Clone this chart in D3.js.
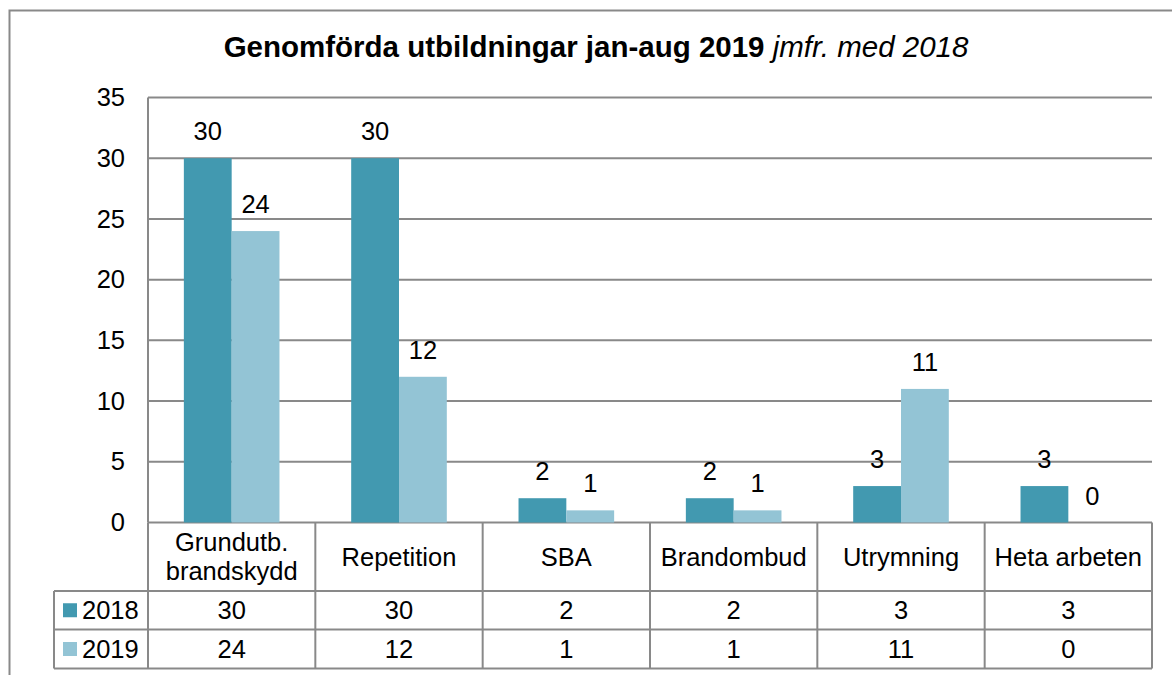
<!DOCTYPE html>
<html>
<head>
<meta charset="utf-8">
<script src="https://cdn.jsdelivr.net/npm/d3@7"></script>
<style>
  body { margin: 0; background: #fff; }
  text { font-family: "Liberation Sans", Arial, sans-serif; fill: #000; }
</style>
</head>
<body>
<script>
(function(){

//chart data
var categories = ["Grundutb.\nbrandskydd", "Repetition", "SBA", "Brandombud", "Utrymning", "Heta arbeten"];
var seriesNames = ["2018", "2019"];
var values2018 = [30, 30, 2, 2, 3, 3];
var values2019 = [24, 12, 1, 1, 11, 0];
var yTicks = [0, 5, 10, 15, 20, 25, 30, 35];

var colors = ["#4299b0", "#93c4d5"];
var gridColor = "#898989";
var fontSize = "25.5px";

var width = 1172, height = 675;

//plot frame
var left = 148, right = 1152, top = 97.5, bottom = 522.5;
var rowCat = 591, row1 = 629.5, row2 = 668.5, legendLeft = 54;

var svg = d3.select("body").append("svg")
    .attr("width", width)
    .attr("height", height);

//outer border (runs off the bottom/right of the picture)
svg.append("rect")
    .attr("x", 9.5).attr("y", 10.5)
    .attr("width", 1200).attr("height", 700)
    .attr("fill", "none")
    .attr("stroke", gridColor)
    .attr("stroke-width", 2);

//title
var title = svg.append("text")
    .attr("x", 596).attr("y", 57)
    .attr("text-anchor", "middle")
    .style("font-size", "29.5px");
title.append("tspan").attr("font-weight", "bold").text("Genomförda utbildningar jan-aug 2019 ");
title.append("tspan").attr("font-style", "italic").text("jmfr. med 2018");

//scales
var x0 = d3.scaleBand()
    .domain(d3.range(categories.length))
    .range([left, right]);

var x1 = d3.scaleBand()
    .domain(seriesNames)
    .range([0, x0.bandwidth()])
    .paddingOuter(0.75);

var y = d3.scaleLinear()
    .domain([0, 35])
    .range([bottom, top]);

//gridlines
svg.selectAll(".grid")
    .data(yTicks)
    .enter()
    .append("line")
    .attr("class", "grid")
    .attr("x1", left).attr("x2", right)
    .attr("y1", function(d){ return y(d); })
    .attr("y2", function(d){ return y(d); })
    .attr("stroke", gridColor)
    .attr("stroke-width", 2);

svg.append("line")
    .attr("x1", left).attr("x2", left)
    .attr("y1", top).attr("y2", bottom)
    .attr("stroke", gridColor).attr("stroke-width", 2);

//y axis labels
var yAxis = d3.axisLeft(y).tickValues(yTicks).tickSize(0).tickPadding(23);
var yg = svg.append("g").attr("transform", "translate(" + left + ",0)").call(yAxis);
yg.select(".domain").remove();
yg.selectAll("text").style("font-size", fontSize).attr("font-family", null).attr("fill", "#000");

//bars
var series = [values2018, values2019];
series.forEach(function(vals, s){
    var g = svg.append("g");
    g.selectAll("rect")
        .data(vals)
        .enter()
        .append("rect")
        .attr("x", function(d, i){ return x0(i) + x1(seriesNames[s]); })
        .attr("width", x1.bandwidth())
        .attr("y", function(d){ return y(d); })
        .attr("height", function(d){ return bottom - y(d); })
        .attr("fill", colors[s]);

    g.selectAll("text")
        .data(vals)
        .enter()
        .append("text")
        .attr("x", function(d, i){ return x0(i) + x1(seriesNames[s]) + x1.bandwidth() / 2; })
        .attr("y", function(d){ return y(d) - 18; })
        .attr("text-anchor", "middle")
        .style("font-size", fontSize)
        .text(function(d){ return d; });
});

//data table
var tableLines = svg.append("g")
    .attr("stroke", gridColor)
    .attr("stroke-width", 2);

[rowCat, row1, row2].forEach(function(yy){
    tableLines.append("line")
        .attr("x1", legendLeft).attr("x2", right)
        .attr("y1", yy).attr("y2", yy);
});
tableLines.append("line")
    .attr("x1", legendLeft).attr("x2", legendLeft)
    .attr("y1", rowCat).attr("y2", row2);

d3.range(categories.length + 1).forEach(function(i){
    var xx = i < categories.length ? x0(i) : right;
    tableLines.append("line")
        .attr("x1", xx).attr("x2", xx)
        .attr("y1", bottom).attr("y2", row2);
});

//category labels
categories.forEach(function(c, i){
    var lines = c.split("\n");
    var cx = x0(i) + x0.bandwidth() / 2;
    var mid = (bottom + rowCat) / 2;
    var t = svg.append("text")
        .attr("text-anchor", "middle")
        .style("font-size", fontSize);
    lines.forEach(function(l, k){
        t.append("tspan")
            .attr("x", cx)
            .attr("y", mid + 9 + (k - (lines.length - 1) / 2) * 29)
            .text(l);
    });
});

//table values
var rowMids = [(rowCat + row1) / 2, (row1 + row2) / 2];
series.forEach(function(vals, s){
    svg.selectAll(".cell" + s)
        .data(vals)
        .enter()
        .append("text")
        .attr("x", function(d, i){ return x0(i) + x0.bandwidth() / 2; })
        .attr("y", rowMids[s] + 9)
        .attr("text-anchor", "middle")
        .style("font-size", fontSize)
        .text(function(d){ return d; });

    //legend key
    svg.append("rect")
        .attr("x", 63).attr("y", rowMids[s] - 7)
        .attr("width", 14).attr("height", 14)
        .attr("fill", colors[s]);
    svg.append("text")
        .attr("x", 82).attr("y", rowMids[s] + 9)
        .style("font-size", fontSize)
        .text(seriesNames[s]);
});

})();
</script>
</body>
</html>
